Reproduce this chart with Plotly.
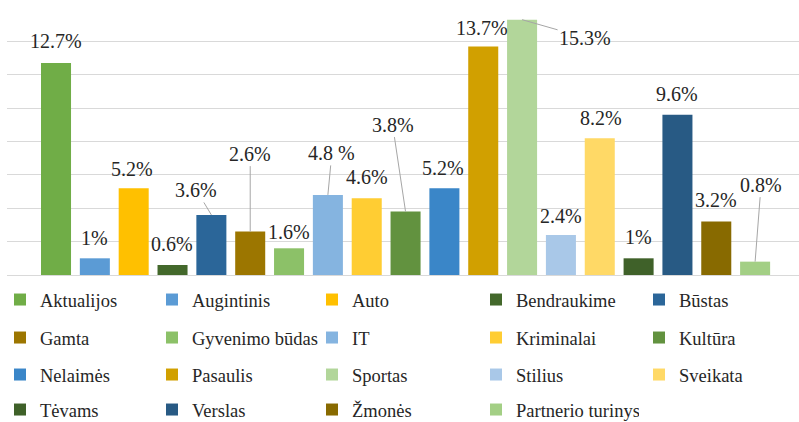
import plotly.graph_objects as go

categories = ["Aktualijos", "Augintinis", "Auto", "Bendraukime", "Būstas",
              "Gamta", "Gyvenimo būdas", "IT", "Kriminalai", "Kultūra",
              "Nelaimės", "Pasaulis", "Sportas", "Stilius", "Sveikata",
              "Tėvams", "Verslas", "Žmonės", "Partnerio turinys"]
values = [12.7, 1, 5.2, 0.6, 3.6, 2.6, 1.6, 4.8, 4.6, 3.8,
          5.2, 13.7, 15.3, 2.4, 8.2, 1, 9.6, 3.2, 0.8]
value_labels = ["12.7%", "1%", "5.2%", "0.6%", "3.6%", "2.6%", "1.6%", "4.8 %", "4.6%", "3.8%",
                "5.2%", "13.7%", "15.3%", "2.4%", "8.2%", "1%", "9.6%", "3.2%", "0.8%"]

colors = ["#70AD47", "#5B9BD5", "#FFC000", "#43682B", "#2B6699",
          "#9C7600", "#8CC168", "#85B4E0", "#FFCD33", "#62923F",
          "#3A86C8", "#D1A000", "#B2D69A", "#A9C8E8", "#FFD966",
          "#3F6129", "#285A84", "#886A00", "#A3CF85"]

# label placement (pixel offsets from bar top) and leader-line flags
label_dx = [0, 0, -2, -1, -15, 0, 0, 4, 0, -13, -1, -1, 63, 0, 1, 0, 0, 0, 6]
label_dy = [-22, -20, -19, -21, -25, -78, -16, -42, -21, -87, -20, -18, 18, -19, -20, -21, -21, -22, -77]
leader = [False, False, False, False, True, True, False, True, False, True,
          False, False, True, False, False, False, False, False, True]

# legend column widths (px of text area) per column
col_widths = [107, 115, 119, 118, 80]

FONT = "Liberation Serif, Times New Roman, serif"
TXT = "#262626"

fig = go.Figure()
legend_names = ["legend", "legend2", "legend3", "legend4"]
for i, (c, v) in enumerate(zip(categories, values)):
    row = i // 5
    col = i % 5
    fig.add_trace(go.Bar(
        x=[c], y=[v], name=c, width=0.773,
        marker=dict(color=colors[i], line=dict(width=0)),
        legend=legend_names[row],
        legendwidth=col_widths[col],
        hoverinfo="skip",
    ))

annotations = []
for i, (c, v, t) in enumerate(zip(categories, values, value_labels)):
    if leader[i]:
        annotations.append(dict(
            x=c, y=v, text=t, showarrow=True, ax=label_dx[i], ay=label_dy[i],
            arrowhead=0, arrowwidth=1, arrowcolor="#A6A6A6", standoff=0,
            font=dict(family=FONT, size=20, color=TXT),
        ))
    else:
        annotations.append(dict(
            x=c, y=v, text=t, showarrow=False, xanchor="center", yanchor="middle",
            xshift=label_dx[i], yshift=-label_dy[i],
            font=dict(family=FONT, size=20, color=TXT),
        ))

row_y = [300, 338, 375, 410]
legend_common = dict(orientation="h", xref="container", yref="container",
                     x=0, xanchor="left", yanchor="middle",
                     entrywidthmode="pixels",
                     font=dict(family=FONT, size=18.5, color=TXT),
                     bgcolor="rgba(0,0,0,0)", traceorder="normal")
legends = {}
for r, name in enumerate(legend_names):
    legends[name] = dict(legend_common, y=1 - row_y[r] / 422)

fig.update_layout(
    width=799, height=422,
    margin=dict(l=7, r=0, t=8, b=146.5),
    paper_bgcolor="white", plot_bgcolor="white",
    barmode="overlay",
    showlegend=True,
    annotations=annotations,
    xaxis=dict(type="category", categoryorder="array", categoryarray=categories,
               range=[-1.262, 19.13], showticklabels=False, ticks="",
               showgrid=False, showline=True, linecolor="#D9D9D9", linewidth=1,
               zeroline=False, fixedrange=True),
    yaxis=dict(range=[0, 16], dtick=2, showticklabels=False, ticks="",
               showgrid=True, gridcolor="#D9D9D9", gridwidth=1,
               zeroline=False, showline=False, fixedrange=True),
    **legends,
)

fig.write_html("out.html", config={"displayModeBar": False},
               post_script="document.body.style.margin='0px';")
